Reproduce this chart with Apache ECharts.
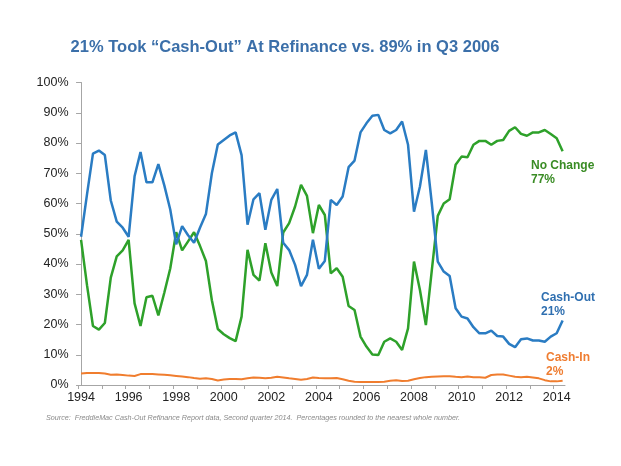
<!DOCTYPE html>
<html><head><meta charset="utf-8">
<script src="https://cdn.jsdelivr.net/npm/echarts@6/dist/echarts.min.js"></script>
<style>html,body{margin:0;padding:0;background:#fff}#c{width:621px;height:466px}</style>
</head><body><div id="c"></div>
<script>
// Quarterly data, 1994 Q1 – 2014 Q2 (index 0 = 1994 Q1)
const startYear = 1994;
const yearTicks = [1994,1995,1996,1997,1998,1999,2000,2001,2002,2003,2004,2005,2006,2007,2008,2009,2010,2011,2012,2013,2014];
const labelYears = [1994,1996,1998,2000,2002,2004,2006,2008,2010,2012,2014];
const yTickLabels = ['0%','10%','20%','30%','40%','50%','60%','70%','80%','90%','100%'];

const cashOut = [
  49,63,76.5,77.5,76,61,54,52,
  49,69,77,67,67,73,66,58,
  46.5,52.5,49.5,47,52,56.5,70,79.5,
  81,82.5,83.5,76,53,61.4,63.4,51.3,
  61.2,64.8,47,44.6,39.7,32.7,36.4,48,
  38.4,41,61.2,59.5,62.3,72,74.2,83.5,
  86.5,89,89.3,84.3,83.2,84.3,87.1,79.4,
  57.3,65.6,77.7,60,40.8,37.5,36,25.4,
  22.6,22,19.1,17.1,17.1,18,16.2,16,
  13.6,12.5,15.1,15.4,14.7,14.7,14.3,16,
  17.1,21.3
];
const noChange = [
  48,33,19.5,18.3,20.5,35.5,42.5,44.5,
  48,27,19.5,29,29.5,23,30.5,38.5,
  50.5,44.5,47.5,50.5,46,41,28,18.5,
  16.8,15.5,14.5,22.6,44.7,36.4,34.5,46.9,
  37.2,32.7,50.4,53.5,59,66.2,62.5,50.2,
  59.5,56.2,36.9,38.6,35.8,26.1,24.8,16,
  12.7,10.1,9.9,14.3,15.4,14.3,11.6,18.7,
  40.8,31.4,19.8,38,55.9,60,61.4,72.8,
  75.5,75.3,79.4,80.7,80.7,79.4,80.7,81,
  84,85.2,83,82.4,83.5,83.5,84.3,83,
  81.6,77.3
];
const cashIn = [
  3.8,4.0,4.0,4.0,3.8,3.4,3.5,3.3,
  3.1,3.0,3.6,3.6,3.6,3.5,3.4,3.2,
  3.0,2.8,2.6,2.3,2.1,2.2,2.0,1.5,
  1.8,2.0,2.0,1.9,2.2,2.5,2.4,2.2,
  2.4,2.7,2.5,2.2,2.0,1.7,2.0,2.5,
  2.3,2.2,2.2,2.3,1.9,1.4,1.1,1.0,
  1.0,1.0,1.0,1.1,1.4,1.6,1.3,1.4,
  1.9,2.3,2.6,2.7,2.8,2.9,2.9,2.7,
  2.6,2.8,2.6,2.6,2.4,3.3,3.5,3.5,
  3.1,2.7,2.6,2.7,2.5,2.2,1.6,1.2,
  1.2,1.4
];

const toXY = arr => arr.map((v, i) => [i, v]);
const qIndex = y => (y - startYear) * 4;

const chart = echarts.init(document.getElementById('c'), null, {renderer: 'canvas'});
const FONT = 'Arial, "Liberation Sans", sans-serif';
const lineColors = {out: '#2a7cc3', no: '#2ea12a', inn: '#f07d2e'};

chart.setOption({
  animation: false,
  backgroundColor: '#fff',
  grid: {left: 77.5, right: 56, top: 82.5, bottom: 81, containLabel: false, outerBoundsMode: 'none'},
  xAxis: {
    type: 'value', min: -0.6, max: 81.4,
    splitLine: {show: false},
    axisLine: {show: true, lineStyle: {color: '#a6a6a6', width: 1}},
    axisTick: {show: true, length: 4, lineStyle: {color: '#a6a6a6'},
      customValues: yearTicks.map(y => qIndex(y) - 0.5)},
    axisLabel: {customValues: labelYears.map(qIndex), margin: 6,
      fontFamily: FONT, fontSize: 12.5, color: '#222',
      formatter: v => String(startYear + Math.round(v) / 4)}
  },
  yAxis: {
    type: 'value', min: 0, max: 100, interval: 10,
    splitLine: {show: false},
    axisLine: {show: true, lineStyle: {color: '#a6a6a6', width: 1}},
    axisTick: {show: true, length: 5, lineStyle: {color: '#a6a6a6'}},
    axisLabel: {margin: 9, fontFamily: FONT, fontSize: 12.5, color: '#222',
      formatter: v => yTickLabels[Math.round(v / 10)]}
  },
  series: [
    {name: 'Cash-In', type: 'line', data: toXY(cashIn), showSymbol: false, symbol: 'none',
      lineStyle: {color: lineColors.inn, width: 2}},
    {name: 'No Change', type: 'line', data: toXY(noChange), showSymbol: false, symbol: 'none',
      lineStyle: {color: lineColors.no, width: 2.5}},
    {name: 'Cash-Out', type: 'line', data: toXY(cashOut), showSymbol: false, symbol: 'none',
      lineStyle: {color: lineColors.out, width: 2.5}}
  ],
  graphic: [
    {type: 'text', x: 285, y: 47, style: {text: '21% Took \u201cCash-Out\u201d At Refinance vs. 89% in Q3 2006',
      font: 'bold 16.5px ' + FONT, fill: '#3b6fa9', align: 'center', verticalAlign: 'middle'}},
    {type: 'text', x: 531, y: 166, style: {text: 'No Change', font: 'bold 12px ' + FONT, fill: '#3a8c25', verticalAlign: 'middle'}},
    {type: 'text', x: 531, y: 180, style: {text: '77%', font: 'bold 12px ' + FONT, fill: '#3a8c25', verticalAlign: 'middle'}},
    {type: 'text', x: 541, y: 298, style: {text: 'Cash-Out', font: 'bold 12px ' + FONT, fill: '#2f6fb0', verticalAlign: 'middle'}},
    {type: 'text', x: 541, y: 312, style: {text: '21%', font: 'bold 12px ' + FONT, fill: '#2f6fb0', verticalAlign: 'middle'}},
    {type: 'text', x: 546, y: 357.5, style: {text: 'Cash-In', font: 'bold 12px ' + FONT, fill: '#ef7d31', verticalAlign: 'middle'}},
    {type: 'text', x: 546, y: 371.5, style: {text: '2%', font: 'bold 12px ' + FONT, fill: '#ef7d31', verticalAlign: 'middle'}},
    {type: 'text', x: 46, y: 418, style: {text: 'Source:  FreddieMac Cash-Out Refinance Report data, Second quarter 2014.  Percentages rounded to the nearest whole number.',
      font: 'italic 7.2px ' + FONT, fill: '#8a8a8a', verticalAlign: 'middle'}}
  ]
});
</script></body></html>
